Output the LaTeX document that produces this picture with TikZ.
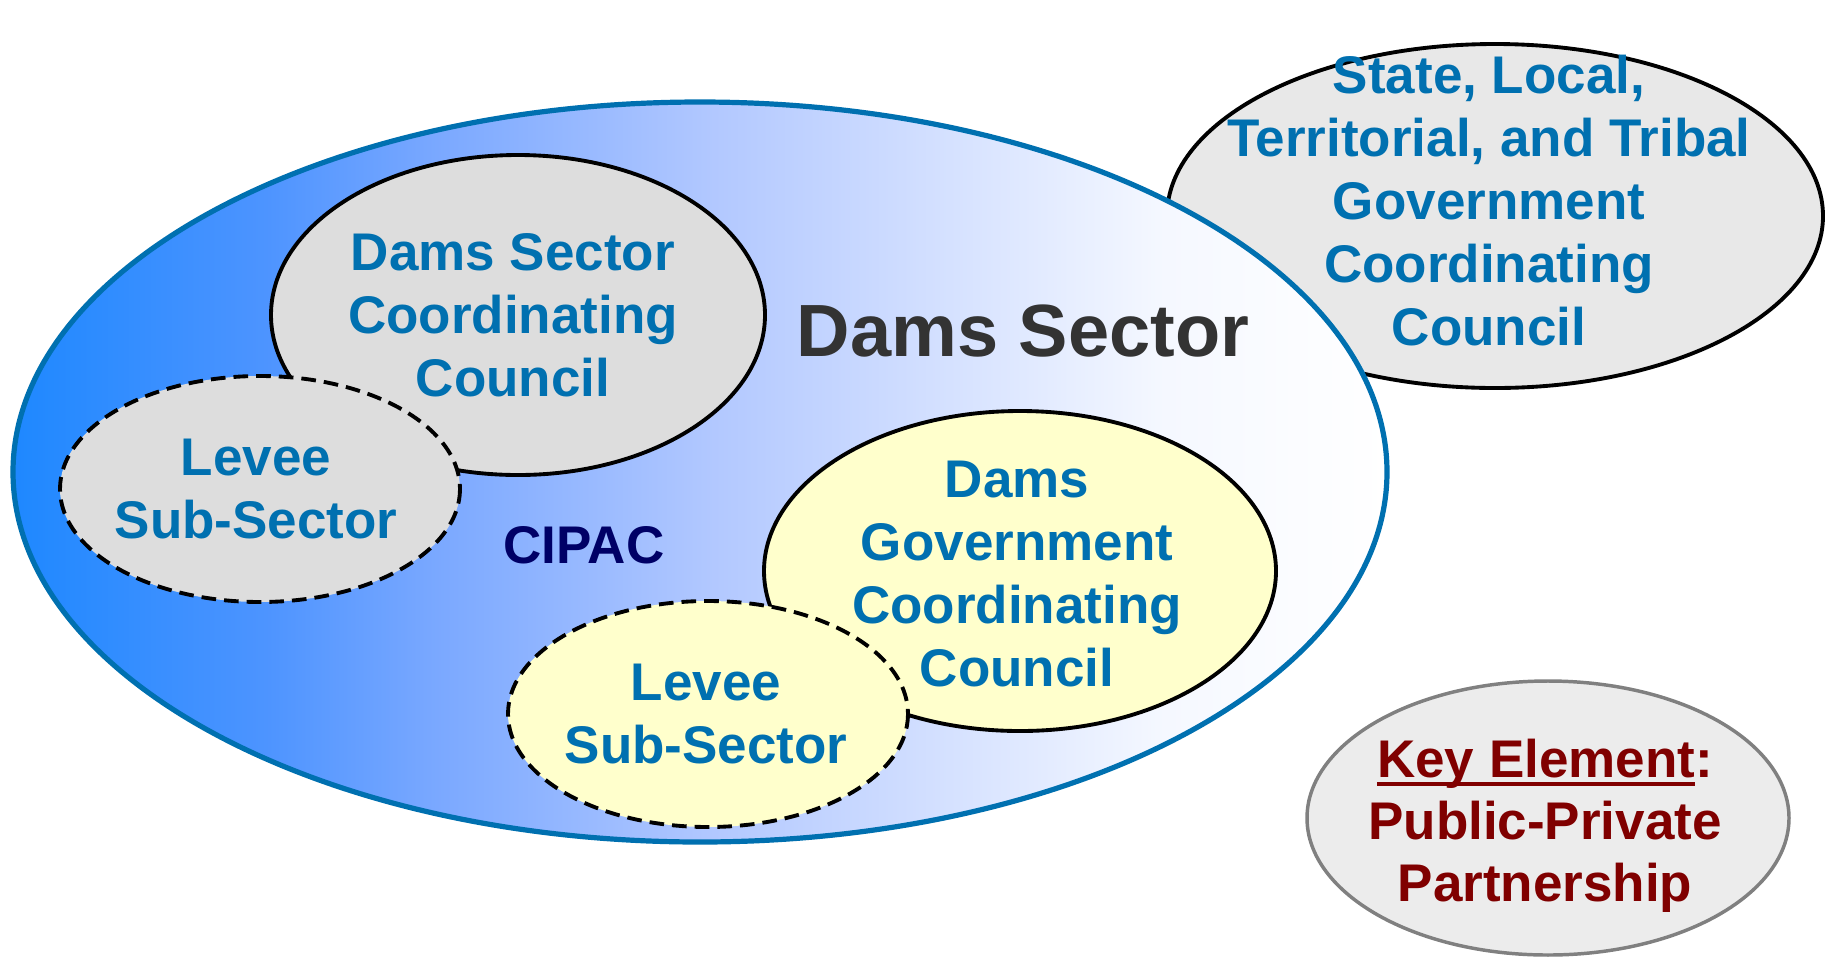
\documentclass[tikz,border=0pt]{standalone}
\usepackage{fontspec}
\setmainfont{Liberation Sans}
\usetikzlibrary{shapes.geometric}

\definecolor{cipacBlue}{RGB}{0,112,176}
\definecolor{cipacNavy}{RGB}{0,0,102}
\definecolor{sectorGray}{RGB}{51,51,51}
\definecolor{keyRed}{RGB}{128,0,0}
\definecolor{councilGray}{RGB}{221,221,221}
\definecolor{stateGray}{RGB}{232,232,232}
\definecolor{keyGray}{RGB}{236,236,236}
\definecolor{govYellow}{RGB}{255,255,204}
\definecolor{shadeA}{RGB}{30,136,255}
\definecolor{shadeB}{RGB}{77,148,255}
\definecolor{shadeC}{RGB}{122,168,255}
\definecolor{shadeD}{RGB}{178,200,255}
\definecolor{shadeE}{RGB}{245,248,255}

\pgfdeclarehorizontalshading{damsShade}{100bp}{color(0bp)=(shadeA); color(25bp)=(shadeA); color(34.2bp)=(shadeB); color(40.4bp)=(shadeC); color(50.5bp)=(shadeD); color(66.9bp)=(shadeE); color(75bp)=(white); color(100bp)=(white)}

\tikzset{every picture/.style={line width=0.75pt}}
\tikzset{
  council/.style={draw=black, line width=2.9pt},
  subsector/.style={draw=black, line width=2.9pt, dash pattern=on 11pt off 6pt},
  bluetext/.style={anchor=center, inner sep=0pt, align=center, text=cipacBlue,
    font=\fontsize{39.75}{47.25}\selectfont\bfseries},
}
\newcommand{\keyline}[1]{\setbox0\hbox{#1}\rlap{\rule[-6.5pt]{\wd0}{3pt}}\box0}

\begin{document}
\begin{tikzpicture}[x=0.75pt,y=0.75pt,yscale=-1,xscale=1]
\useasboundingbox (0,0) rectangle (1827,958);

%Shape: Ellipse [state council]
\draw [council, fill=stateGray] (1495,216) ellipse [x radius=328, y radius=172];
%Shape: Ellipse [dams sector]
\draw [draw=cipacBlue, line width=3.9pt, shading=damsShade] (700,472) ellipse [x radius=687, y radius=370];
%Shape: Ellipse [sector coordinating council]
\draw [council, fill=councilGray] (518,315) ellipse [x radius=247, y radius=160];
%Shape: Ellipse [levee, private side]
\draw [subsector, fill=councilGray] (260,489) ellipse [x radius=200, y radius=113];
%Shape: Ellipse [government coordinating council]
\draw [council, fill=govYellow] (1020,571) ellipse [x radius=256, y radius=160];
%Shape: Ellipse [levee, government side]
\draw [subsector, fill=govYellow] (708,714) ellipse [x radius=200, y radius=113];
%Shape: Ellipse [key element]
\draw [draw={rgb,255:red,128;green,128;blue,128}, line width=2.6pt, fill=keyGray] (1548,818) ellipse [x radius=241, y radius=137];

% Text Node
\draw (1489,201) node [bluetext] (stateTxt) {State, Local,\\Territorial, and Tribal\\Government\\Coordinating\\Council};
% Text Node
\draw (1023,331) node [anchor=center, inner sep=0pt, text=sectorGray, font=\fontsize{55.5}{66}\selectfont\bfseries] (sectorTxt) {Dams Sector};
% Text Node
\draw (513,315) node [bluetext] (sccTxt) {Dams Sector\\Coordinating\\Council};
% Text Node
\draw (256,489) node [bluetext] (leveeA) {Levee\\Sub-Sector};
% Text Node
\draw (584,545) node [anchor=center, inner sep=0pt, text=cipacNavy, font=\fontsize{39.75}{47.25}\selectfont\bfseries] (cipacTxt) {CIPAC};
% Text Node
\draw (1017,574) node [bluetext] (gccTxt) {Dams\\Government\\Coordinating\\Council};
% Text Node
\draw (706,714) node [bluetext] (leveeB) {Levee\\Sub-Sector};
% Text Node
\draw (1545,826) node [anchor=center, inner sep=0pt, align=center, text=keyRed, font=\fontsize{39.75}{46.5}\selectfont\bfseries] (keyTxt) {\keyline{Key Element}:\\Public-Private\\Partnership};

\end{tikzpicture}
\end{document}
